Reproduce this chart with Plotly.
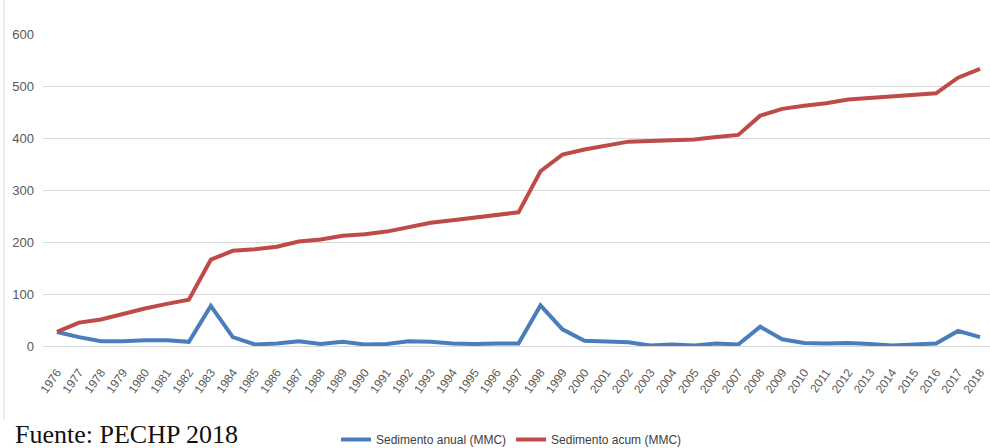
import plotly.graph_objects as go

# Sediment in the reservoir, millions of cubic metres (MMC), 1976-2018
years = list(range(1976, 2019))

sedimento_anual = [27, 17, 9, 9, 11, 11, 8, 77, 17, 3,
                   5, 9, 4, 8, 3, 4, 9, 8, 5, 4,
                   5, 5, 78, 32, 10, 8, 7, 1, 3, 1,
                   5, 3, 37, 13, 6, 5, 6, 4, 1, 3,
                   5, 29, 17]

sedimento_acum = [27, 45, 51, 62, 72, 81, 89, 166, 183, 186,
                  191, 201, 205, 212, 215, 220, 229, 237, 242, 247,
                  252, 257, 336, 368, 378, 386, 393, 394, 396, 397,
                  402, 406, 443, 456, 462, 467, 474, 477, 479, 482,
                  486, 516, 533]

y_ticks = [0, 100, 200, 300, 400, 500, 600]

BLUE = "#4A7EBB"
RED = "#BE4B48"
GRID = "#D9D9D9"
TICK_FONT = "Liberation Sans Narrow, Arial Narrow, Liberation Sans, Arial, sans-serif"

W, H = 990, 448
L, R, T, B = 43, 0, 34, 102
plot_w = W - L - R
plot_h = H - T - B


def px_x(x):
    return (x - L) / plot_w


def px_y(y):
    return (H - B - y) / plot_h


fig = go.Figure()
fig.add_trace(go.Scatter(
    x=years, y=sedimento_anual, mode="lines", name="Sedimento anual (MMC)",
    line=dict(color=BLUE, width=4),
))
fig.add_trace(go.Scatter(
    x=years, y=sedimento_acum, mode="lines", name="Sedimento acum (MMC)",
    line=dict(color=RED, width=4),
))

# thin frame line on the left edge of the chart box
fig.add_shape(type="line", xref="paper", yref="paper",
              x0=px_x(4), x1=px_x(4), y0=px_y(0), y1=px_y(420),
              line=dict(color=GRID, width=1))

fig.add_annotation(
    text="Fuente: PECHP 2018", xref="paper", yref="paper",
    x=px_x(13), y=px_y(451), xanchor="left", yanchor="bottom",
    showarrow=False, font=dict(family="Liberation Serif, Times New Roman, serif",
                               size=26, color="#111111"),
)

fig.update_layout(
    width=W, height=H,
    margin=dict(l=L, r=R, t=T, b=B, autoexpand=False),
    paper_bgcolor="white", plot_bgcolor="white",
    showlegend=True,
    legend=dict(orientation="h", x=px_x(336), y=px_y(425),
                xanchor="left", yanchor="top",
                font=dict(family="Liberation Sans, Arial, sans-serif", size=12, color="#404040"),
                bgcolor="rgba(0,0,0,0)"),
    xaxis=dict(
        range=[1975.363, 2018.455],
        tickmode="array", tickvals=years, ticktext=[str(y) for y in years],
        tickangle=-55, showgrid=False, zeroline=False, showline=False, ticks="",
        ticklabelstandoff=16, automargin=False,
        tickfont=dict(family=TICK_FONT, size=12, color="#595959"),
        fixedrange=True,
    ),
    yaxis=dict(
        range=[0, 600], tickmode="array", tickvals=y_ticks,
        showgrid=True, gridcolor=GRID, gridwidth=1,
        zeroline=True, zerolinecolor=GRID, zerolinewidth=1,
        showline=False, ticks="", ticklabelstandoff=8, automargin=False,
        tickfont=dict(family=TICK_FONT, size=13, color="#595959"),
        fixedrange=True,
    ),
)

fig.write_html("out.html")
